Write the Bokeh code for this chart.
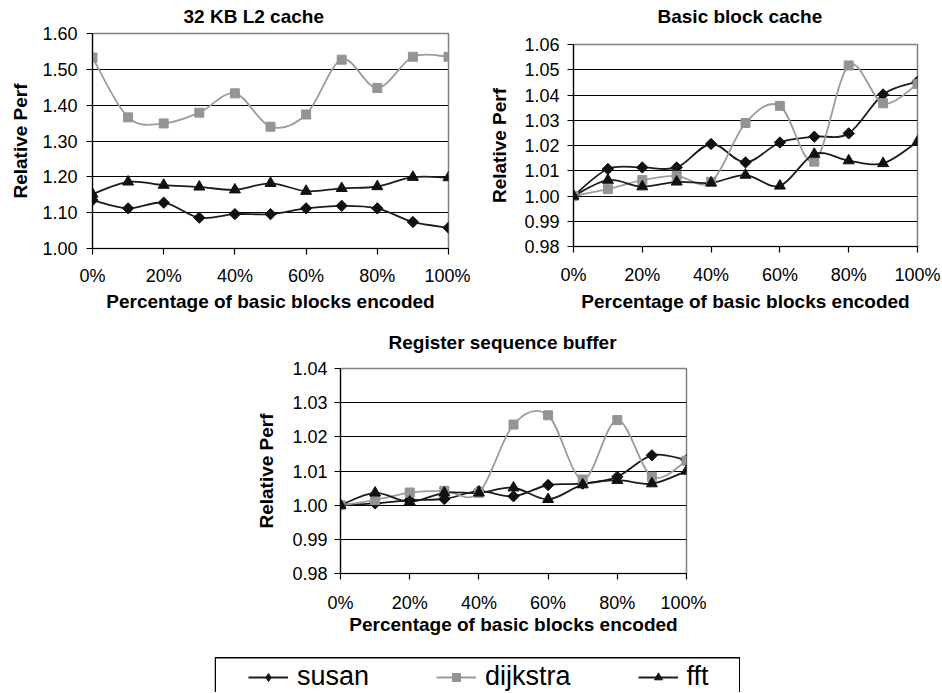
import math
from bokeh.plotting import figure
from bokeh.layouts import column, row
from bokeh.models import (Range1d, FixedTicker, Legend, LegendItem, ColumnDataSource,
                          Spacer, PrintfTickFormatter, Title)
from bokeh.embed import file_html
from bokeh.resources import INLINE

# ---------------- data ----------------
pct = [0, 10, 20, 30, 40, 50, 60, 70, 80, 90, 100]
x_ticks = [0, 20, 40, 60, 80, 100]
x_tick_labels = ["0%", "20%", "40%", "60%", "80%", "100%"]

# 32 KB L2 cache
l2_susan = [1.135, 1.112, 1.128, 1.086, 1.096, 1.096, 1.112, 1.119, 1.112, 1.074, 1.058]
l2_dijkstra = [1.533, 1.366, 1.349, 1.379, 1.433, 1.340, 1.374, 1.527, 1.448, 1.535, 1.535]
l2_fft = [1.152, 1.186, 1.177, 1.172, 1.164, 1.182, 1.160, 1.168, 1.173, 1.199, 1.198]
l2_y_ticks = [1.00, 1.10, 1.20, 1.30, 1.40, 1.50, 1.60]

# Basic block cache
bb_susan = [1.000, 1.0107, 1.0113, 1.0113, 1.0206, 1.0133, 1.0212, 1.0235, 1.0248, 1.0402, 1.0453]
bb_dijkstra = [1.000, 1.0027, 1.0063, 1.0080, 1.0056, 1.0289, 1.0357, 1.0136, 1.0517, 1.0367, 1.0444]
bb_fft = [1.000, 1.0063, 1.0037, 1.0056, 1.0052, 1.0083, 1.0040, 1.0166, 1.0140, 1.0129, 1.0215]
bb_y_ticks = [0.98, 0.99, 1.00, 1.01, 1.02, 1.03, 1.04, 1.05, 1.06]

# Register sequence buffer
rsb_susan = [1.000, 1.0005, 1.0015, 1.0018, 1.0041, 1.0026, 1.0059, 1.0063, 1.0083, 1.0146, 1.0132]
rsb_dijkstra = [1.000, 1.0015, 1.0037, 1.0042, 1.0036, 1.0236, 1.0263, 1.0075, 1.0249, 1.0083, 1.0130]
rsb_fft = [1.000, 1.0036, 1.0010, 1.0036, 1.0036, 1.0051, 1.0017, 1.0060, 1.0073, 1.0063, 1.0100]
rsb_y_ticks = [0.98, 0.99, 1.00, 1.01, 1.02, 1.03, 1.04]

series_names = ["susan", "dijkstra", "fft"]
titles = ["32 KB L2 cache", "Basic block cache", "Register sequence buffer"]
x_label = "Percentage of basic blocks encoded"
y_label = "Relative Perf"

# ---------------- styles ----------------
FONT = "Liberation Sans"
STYLE = {
    "susan": dict(line="#1c1c1c", marker="square", angle=math.pi / 4, size=8, fill="#111111",
                  leg_marker="diamond", leg_size=11),
    "dijkstra": dict(line="#9c9c9c", marker="square", angle=0.0, size=9, fill="#949494",
                     leg_marker="square", leg_size=8),
    "fft": dict(line="#1c1c1c", marker="triangle", angle=0.0, size=11, fill="#111111",
                leg_marker="triangle", leg_size=10),
}


def smooth_segments(xs, ys):
    """Excel-like smoothed line: cubic Bezier segments through the points."""
    n = len(xs)
    d = dict(x0=[], y0=[], x1=[], y1=[], cx0=[], cy0=[], cx1=[], cy1=[])
    for i in range(n - 1):
        a = i - 1 if i > 0 else i
        b = i + 2 if i + 2 < n else i + 1
        d["x0"].append(xs[i]); d["y0"].append(ys[i])
        d["x1"].append(xs[i + 1]); d["y1"].append(ys[i + 1])
        d["cx0"].append(xs[i] + (xs[i + 1] - xs[a]) / 6.0)
        d["cy0"].append(ys[i] + (ys[i + 1] - ys[a]) / 6.0)
        d["cx1"].append(xs[i + 1] - (xs[b] - xs[i]) / 6.0)
        d["cy1"].append(ys[i + 1] - (ys[b] - ys[i]) / 6.0)
    return ColumnDataSource(d)


def no_frame_align(p):
    try:
        p.frame_align = False
    except Exception:
        pass


def make_chart(title, data, y_ticks, width, height, mb_left, mb_right, mb_top, mb_bottom,
               title_offset, gap_standoff,
               x_lab_standoff, x_axlab_standoff, y_lab_standoff, y_axlab_standoff):
    p = figure(width=width, height=height, output_backend="svg", toolbar_location=None,
               title=None,
               x_range=Range1d(0, 100), y_range=Range1d(y_ticks[0], y_ticks[-1]),
               min_border_left=mb_left, min_border_right=mb_right,
               min_border_top=mb_top, min_border_bottom=mb_bottom)
    no_frame_align(p)
    # small blank spacer title next to the frame, then the real title
    p.add_layout(Title(text=" ", text_font_size="1px", standoff=gap_standoff), "above")
    p.add_layout(Title(text=title, align="left", offset=title_offset, vertical_align="top",
                       standoff=0, text_font=FONT, text_font_size="19px",
                       text_font_style="bold", text_color="black"), "above")

    p.background_fill_color = "white"
    p.border_fill_color = "white"
    p.outline_line_color = "#808080"
    p.outline_line_width = 1.5

    # axes
    p.xaxis.ticker = FixedTicker(ticks=x_ticks)
    p.xaxis.major_label_overrides = {t: l for t, l in zip(x_ticks, x_tick_labels)}
    p.yaxis.ticker = FixedTicker(ticks=y_ticks)
    p.yaxis.formatter = PrintfTickFormatter(format="%.2f")
    for ax in (p.xaxis, p.yaxis):
        ax.axis_line_color = "black"
        ax.axis_line_width = 1.2
        ax.major_tick_line_color = "black"
        ax.major_tick_line_width = 1.2
        ax.major_tick_in = 0
        ax.major_tick_out = 6
        ax.minor_tick_line_color = None
        ax.major_label_text_font = FONT
        ax.major_label_text_font_size = "18px"
        ax.major_label_text_color = "black"
        ax.axis_label_text_font = FONT
        ax.axis_label_text_font_size = "19px"
        ax.axis_label_text_font_style = "bold"
        ax.axis_label_text_color = "black"
    p.xaxis.axis_label = x_label
    p.yaxis.axis_label = y_label
    p.xaxis.major_label_standoff = x_lab_standoff
    p.xaxis.axis_label_standoff = x_axlab_standoff
    p.yaxis.major_label_standoff = y_lab_standoff
    p.yaxis.axis_label_standoff = y_axlab_standoff

    p.xgrid.visible = False
    p.ygrid.ticker = FixedTicker(ticks=y_ticks)
    p.ygrid.grid_line_color = "black"
    p.ygrid.grid_line_width = 1.2

    # series
    for name, ys in zip(series_names, data):
        st = STYLE[name]
        p.bezier(x0="x0", y0="y0", x1="x1", y1="y1", cx0="cx0", cy0="cy0", cx1="cx1", cy1="cy1",
                 source=smooth_segments(pct, ys), line_color=st["line"], line_width=1.8)
    for name, ys in zip(series_names, data):
        st = STYLE[name]
        p.scatter(pct, ys, marker=st["marker"], angle=st["angle"], size=st["size"],
                  fill_color=st["fill"], line_color=st["fill"], line_width=1)
    return p


#                                                       w    h   mbl mbr mbt mbb  toff gap xs xa ys ya
p1 = make_chart(titles[0], [l2_susan, l2_dijkstra, l2_fft], l2_y_ticks,
                470, 320, 92, 22, 33, 72, 91, 2, 11, 2, 9, 8)
p2 = make_chart(titles[1], [bb_susan, bb_dijkstra, bb_fft], bb_y_ticks,
                472, 320, 103, 25, 44, 74, 84, 13, 12, 3, 8, 11)
p3 = make_chart(titles[2], [rsb_susan, rsb_dijkstra, rsb_fft], rsb_y_ticks,
                476, 320, 110, 20, 48, 67, 48, 11, 13, -2, 7, 12)

# ---------------- legend ----------------
LW, LH = 526, 52
lf = figure(width=LW, height=LH, output_backend="svg", toolbar_location=None,
            x_range=Range1d(0, LW), y_range=Range1d(0, LH),
            x_axis_location=None, y_axis_location=None,
            min_border_left=0, min_border_right=0, min_border_top=0, min_border_bottom=0)
no_frame_align(lf)
lf.outline_line_color = None
lf.xgrid.visible = False
lf.ygrid.visible = False
lf.quad(left=[0.75], right=[LW - 0.75], top=[LH - 17.25], bottom=[-10], fill_color=None,
        line_color="black", line_width=1.5)
items = []
nan = float("nan")
for name in series_names:
    st = STYLE[name]
    src = ColumnDataSource(dict(x=[nan], y=[nan]))
    r_line = lf.line("x", "y", source=src, line_color=st["line"], line_width=1.8)
    r_mark = lf.scatter("x", "y", source=src, marker=st["leg_marker"], size=st["leg_size"],
                        fill_color=st["fill"], line_color=st["fill"])
    items.append(LegendItem(label=name, renderers=[r_line, r_mark]))
legend = Legend(items=items, orientation="horizontal", location=(34, 0), padding=0, margin=0,
                spacing=67, glyph_width=40, glyph_height=20, label_standoff=9,
                label_text_font=FONT, label_text_font_size="27px", label_text_color="black",
                border_line_color=None, background_fill_alpha=0)
lf.add_layout(legend)

layout = column(
    row(column(p1), column(p2)),
    row(Spacer(width=230, height=320), column(p3)),
    row(Spacer(width=214, height=LH), column(lf)),
)

open("out.html", "w").write(file_html(layout, INLINE))
